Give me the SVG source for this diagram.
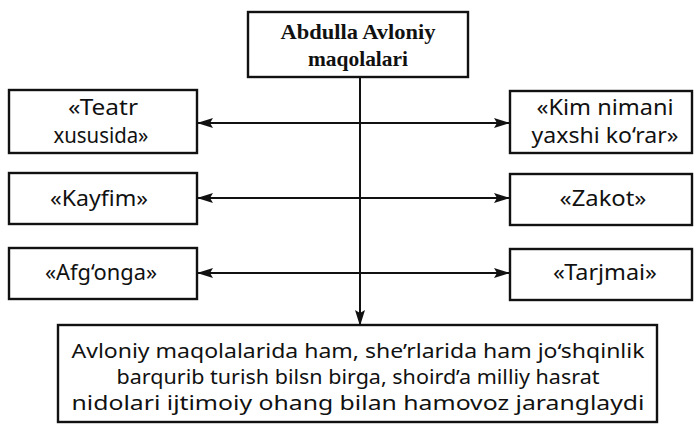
<svg xmlns="http://www.w3.org/2000/svg" width="696" height="424" viewBox="0 0 696 424">
<defs>
<style>
.box{fill:#fff;stroke:#111;stroke-width:2.4}
.t{font-family:"Noto Sans","Liberation Sans",sans-serif;font-size:21px;fill:#111;text-anchor:middle}
.tm{font-family:"Noto Sans","Liberation Sans",sans-serif;font-size:19.5px;fill:#111;text-anchor:middle}
.tb{font-family:"Liberation Serif",serif;font-size:21px;font-weight:bold;fill:#111;text-anchor:middle}
.ln{stroke:#111;stroke-width:2;fill:none}
</style>
<marker id="ah" viewBox="0 0 16 10" refX="15" refY="5" markerWidth="16" markerHeight="10" markerUnits="userSpaceOnUse" orient="auto-start-reverse">
<path d="M0,0 L16,5 L0,10 L3,5 Z" fill="#111"/>
</marker>
</defs>
<rect width="696" height="424" fill="#fff"/>
<g id="connectors">
<line class="ln" x1="360" y1="77" x2="360" y2="325" marker-end="url(#ah)"/>
<line class="ln" x1="198" y1="123" x2="509" y2="123" marker-start="url(#ah)" marker-end="url(#ah)"/>
<line class="ln" x1="198" y1="198" x2="509" y2="198" marker-start="url(#ah)" marker-end="url(#ah)"/>
<line class="ln" x1="198" y1="273" x2="509" y2="273" marker-start="url(#ah)" marker-end="url(#ah)"/>
</g>
<g id="top">
<rect class="box" x="248" y="12" width="220" height="65"/>
<text class="tb" x="358" y="39" textLength="155" lengthAdjust="spacingAndGlyphs">Abdulla Avloniy</text>
<text class="tb" x="358" y="66" textLength="100" lengthAdjust="spacingAndGlyphs">maqolalari</text>
</g>
<g id="teatr">
<rect class="box" x="9" y="90" width="188" height="63"/>
<text class="t" x="103" y="115" textLength="70" lengthAdjust="spacingAndGlyphs">«Teatr</text>
<text class="t" x="101" y="143" textLength="95" lengthAdjust="spacingAndGlyphs">xususida»</text>
</g>
<g id="kayfim">
<rect class="box" x="9" y="173" width="188" height="51"/>
<text class="t" x="99" y="206" textLength="98" lengthAdjust="spacingAndGlyphs">«Kayfim»</text>
</g>
<g id="afgonga">
<rect class="box" x="9" y="248" width="188" height="51"/>
<text class="t" x="101" y="280" textLength="112" lengthAdjust="spacingAndGlyphs">«Afg‘onga»</text>
</g>
<g id="kim">
<rect class="box" x="510" y="91" width="182" height="62"/>
<text class="t" x="605" y="115" textLength="137" lengthAdjust="spacingAndGlyphs">«Kim nimani</text>
<text class="t" x="605" y="143" textLength="147" lengthAdjust="spacingAndGlyphs">yaxshi ko‘rar»</text>
</g>
<g id="zakot">
<rect class="box" x="510" y="174" width="182" height="51"/>
<text class="t" x="603" y="206" textLength="87" lengthAdjust="spacingAndGlyphs">«Zakot»</text>
</g>
<g id="tarjmai">
<rect class="box" x="510" y="249" width="182" height="51"/>
<text class="t" x="605" y="280" textLength="104" lengthAdjust="spacingAndGlyphs">«Tarjmai»</text>
</g>
<g id="bottom">
<rect class="box" x="58" y="325" width="599" height="97"/>
<text class="tm" x="358" y="358" textLength="573" lengthAdjust="spacingAndGlyphs">Avloniy maqolalarida ham, she’rlarida ham jo‘shqinlik</text>
<text class="tm" x="358" y="384" textLength="483" lengthAdjust="spacingAndGlyphs">barqurib turish bilsn birga, shoird’a milliy hasrat</text>
<text class="tm" x="358" y="410" textLength="573" lengthAdjust="spacingAndGlyphs">nidolari ijtimoiy ohang bilan hamovoz jaranglaydi</text>
</g>
</svg>
